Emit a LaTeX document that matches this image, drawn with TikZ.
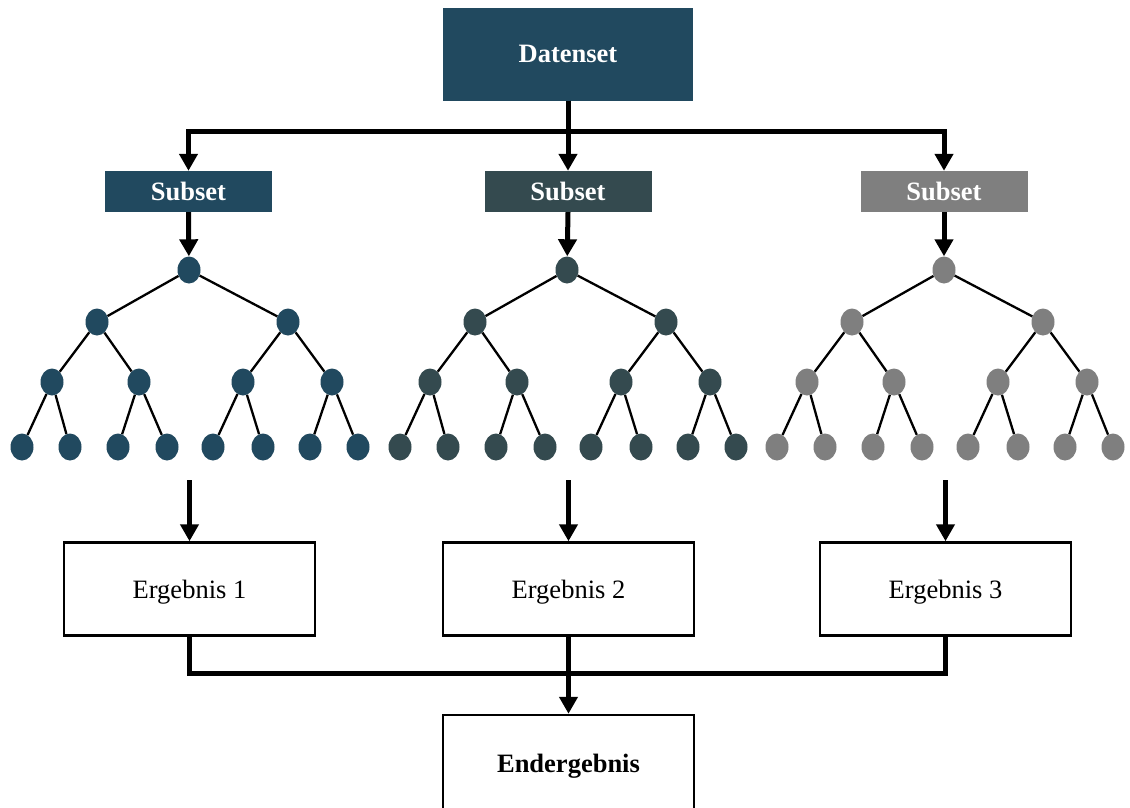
\documentclass[tikz,border=0pt]{standalone}
\usepackage{fontspec}
\setmainfont{Liberation Serif}
\usetikzlibrary{arrows.meta,shapes.geometric}

\definecolor{navy}{HTML}{21495F}
\definecolor{slate}{HTML}{344A4F}
\definecolor{stone}{HTML}{7F7F7F}

\tikzset{
  flow/.style={line width=5pt, -{Triangle[width=18pt,length=17pt]}},
  bus/.style={line width=5pt},
  edge/.style={line width=2.3pt},
  headbox/.style={fill=#1, text=white, inner sep=0pt,
    font=\fontsize{26.5}{31}\selectfont\bfseries},
  resultbox/.style={draw, line width=2.5pt, fill=white, inner sep=0pt,
    minimum width=251pt, minimum height=93pt, text depth=0pt,
    font=\fontsize{26.5}{31}\selectfont},
  leaf/.style={ellipse, fill=#1, inner sep=0pt,
    minimum width=23pt, minimum height=27pt},
}

% one binary tree of depth three, shifted right by #2
\newcommand\subtree[3]{%
  \begin{scope}[xshift=#2pt]
    \node[leaf=#3] (#1r) at (189,270) {};
    \node[leaf=#3] (#1a) at (97,322) {};
    \node[leaf=#3] (#1b) at (288,322) {};
    \node[leaf=#3] (#1aa) at (52,382) {};
    \node[leaf=#3] (#1ab) at (139,382) {};
    \node[leaf=#3] (#1ba) at (243,382) {};
    \node[leaf=#3] (#1bb) at (332,382) {};
    \node[leaf=#3] (#1l1) at (22,447) {};
    \node[leaf=#3] (#1l2) at (70,447) {};
    \node[leaf=#3] (#1l3) at (118,447) {};
    \node[leaf=#3] (#1l4) at (167,447) {};
    \node[leaf=#3] (#1l5) at (213,447) {};
    \node[leaf=#3] (#1l6) at (263,447) {};
    \node[leaf=#3] (#1l7) at (310,447) {};
    \node[leaf=#3] (#1l8) at (358,447) {};
    \draw[edge] (#1r) -- (#1a);
    \draw[edge] (#1r) -- (#1b);
    \draw[edge] (#1a) -- (#1aa);
    \draw[edge] (#1a) -- (#1ab);
    \draw[edge] (#1b) -- (#1ba);
    \draw[edge] (#1b) -- (#1bb);
    \draw[edge] (#1aa) -- (#1l1);
    \draw[edge] (#1aa) -- (#1l2);
    \draw[edge] (#1ab) -- (#1l3);
    \draw[edge] (#1ab) -- (#1l4);
    \draw[edge] (#1ba) -- (#1l5);
    \draw[edge] (#1ba) -- (#1l6);
    \draw[edge] (#1bb) -- (#1l7);
    \draw[edge] (#1bb) -- (#1l8);
  \end{scope}}

\begin{document}
\begin{tikzpicture}[x=1pt, y=-1pt]
  \useasboundingbox[fill=white] (0,0) rectangle (1130,807);

  % source data set
  \node[headbox=navy, minimum width=250pt, minimum height=93pt]
    (ds) at (568,54) {Datenset};

  % subsets
  \node[headbox=navy,  minimum width=167pt, minimum height=41pt] (s1) at (188.5,191.5) {Subset};
  \node[headbox=slate, minimum width=167pt, minimum height=41pt] (s2) at (568,191.5) {Subset};
  \node[headbox=stone, minimum width=167pt, minimum height=41pt] (s3) at (944,191.5) {Subset};

  % distribution bus
  \coordinate (split) at (568,131);
  \draw[flow] (ds.south) -- (split) -| (s1.north);
  \draw[flow] (ds.south) -- (s2.north);
  \draw[flow] (ds.south) -- (split) -| (s3.north);

  % trees
  \subtree{ta}{0}{navy}
  \subtree{tb}{378}{slate}
  \subtree{tc}{755}{stone}

  \draw[flow] (s1.south) -- (tar);
  \draw[flow] (s2.south) -- (tbr);
  \draw[flow] (s3.south) -- (tcr);

  % results
  \node[resultbox] (r1) at (189.5,589) {Ergebnis 1};
  \node[resultbox] (r2) at (568.5,589) {Ergebnis 2};
  \node[resultbox] (r3) at (945.5,589) {Ergebnis 3};

  \coordinate (o1) at (189.5,480);
  \coordinate (o2) at (568.5,480);
  \coordinate (o3) at (945.5,480);
  \draw[flow] (o1) -- (r1.north);
  \draw[flow] (o2) -- (r2.north);
  \draw[flow] (o3) -- (r3.north);

  % final result
  \node[resultbox, minimum height=96pt, font=\fontsize{26.5}{31}\selectfont\bfseries]
    (fin) at (568.5,763) {Endergebnis};

  \coordinate (merge) at (568.5,673);
  \draw[bus] (r1.south) |- (merge) -| (r3.south);
  \draw[flow] (r2.south) -- (fin.north);
\end{tikzpicture}
\end{document}
